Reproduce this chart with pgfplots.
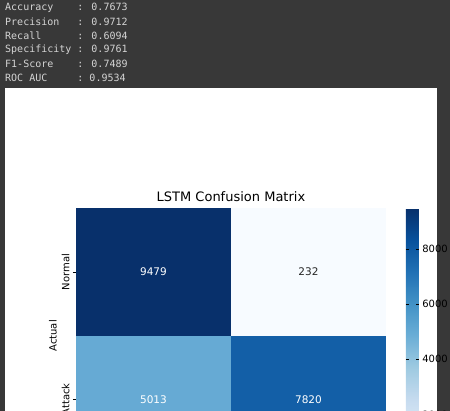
\documentclass[border=0pt]{standalone}
\usepackage{pgfplots}
\pgfplotsset{compat=1.18}
\usepackage{fontspec}
\setmainfont{DejaVu Sans}
\newfontfamily\monof{DejaVu Sans Mono}
\definecolor{bg}{HTML}{383838}
\definecolor{mono}{HTML}{D4D4D4}
\pgfplotsset{colormap={blues}{rgb255=(247,251,255) rgb255=(222,235,247) rgb255=(198,219,239) rgb255=(158,202,225) rgb255=(107,174,214) rgb255=(66,146,198) rgb255=(33,113,181) rgb255=(8,81,156) rgb255=(8,48,107)}}
\begin{document}
\begin{tikzpicture}[x=1pt,y=1pt]
\useasboundingbox (0,0) rectangle (450,411);
\fill[bg] (0,0) rectangle (450,411);
\fill[white] (5,0) rectangle (437,323);
\foreach \t [count=\i] in {Accuracy{\ \ \ \ }: 0.7673,Precision{\ \ \ }: 0.9712,Recall{\ \ \ \ \ \ }: 0.6094,Specificity : 0.9761,F1-Score{\ \ \ \ }: 0.7489,ROC AUC{\ \ \ \ \ }: 0.9534}
  \node[anchor=west,inner sep=0pt,text=mono,font=\monof\fontsize{10}{12}\selectfont] at (5,{411-8-14*(\i-1)}) {\t};
\begin{axis}[at={(49,41)},anchor=south west,scale only axis,width=310,height=255,
  xmin=-0.5,xmax=1.5,ymin=-0.5,ymax=1.5,y dir=reverse,
  xtick={0,1},xticklabels={Normal,Attack},ytick={0,1},yticklabels={Normal,Attack},
  yticklabel style={rotate=90,anchor=south},
  tick align=outside,tick pos=left,major tick length=3pt,tick style={black},
  axis line style={draw=none},
  ticklabel style={font=\fontsize{10}{12}\selectfont},
  xlabel={Predicted},ylabel={Actual},
  label style={font=\fontsize{10}{12}\selectfont},
  xlabel style={yshift=4pt},ylabel style={yshift=-2pt},
  title={LSTM Confusion Matrix},title style={font=\fontsize{13}{15}\selectfont,yshift=-3pt},
  colormap name=blues,point meta min=232,point meta max=9479,
  colorbar,colorbar style={at={(1.064,1)},anchor=north west,width=13,
    ytick={2000,4000,6000,8000},axis line style={draw=none},
    yticklabel style={font=\fontsize{10}{12}\selectfont,/pgf/number format/assume math mode=true,/pgf/number format/1000 sep={}},
    major tick length=3pt,tick style={black}},
]
\addplot[matrix plot*,mesh/cols=2,point meta=explicit] coordinates {(0,0)[9479] (1,0)[232] (0,1)[5013] (1,1)[7820]};
\addplot[draw=none,mark=none,nodes near coords,point meta=explicit symbolic,
  every node near coord/.style={font=\fontsize{10.5}{12}\selectfont,text=white,anchor=center}] coordinates {(0,0)[9479] (0,1)[5013] (1,1)[7820]};
\addplot[draw=none,mark=none,nodes near coords,point meta=explicit symbolic,
  every node near coord/.style={font=\fontsize{10.5}{12}\selectfont,text=black!85,anchor=center}] coordinates {(1,0)[232]};
\end{axis}
\end{tikzpicture}
\end{document}
